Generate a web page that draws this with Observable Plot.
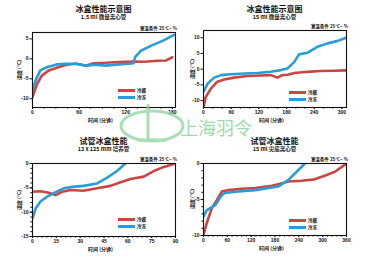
<!DOCTYPE html>
<html><head><meta charset="utf-8">
<script src="https://cdn.jsdelivr.net/npm/d3@7"></script>
<script src="https://cdn.jsdelivr.net/npm/@observablehq/plot@0.6"></script>
<style>
body{margin:0;background:#fff;}
#wrap{position:relative;width:376px;height:257px;overflow:hidden;font-family:"Noto Sans CJK SC","Noto Sans",sans-serif;background:#fff;}
.abs{position:absolute;white-space:nowrap;color:#111;font-weight:bold;}
.t1{font-size:8px;transform:translateX(-50%);line-height:1;}
.t2{font-size:5.5px;transform:translateX(-50%);line-height:1;}
.xl{font-size:5px;transform:translateX(-50%);line-height:1;}
.yl{font-size:5px;transform:translate(-50%,-50%) rotate(-90deg);line-height:1;}
.note{font-size:4.5px;transform:translateX(-100%);line-height:1;}
.leg{font-size:4.5px;line-height:1;}
.sw{position:absolute;height:3px;width:17px;}
</style></head>
<body><div id="wrap"></div>
<script>
// ---------- data ----------
const titles = ["冰盒性能示意图", "冰盒性能示意图", "试管冰盒性能", "试管冰盒性能"];
const subtitles = ["1.5 ml 微量离心管", "15 ml 微量离心管", "13 x 125 mm 培养管", "15 ml 尖底离心管"];
const seriesNames = ["冷藏", "冷冻"];
const xTitle = "时间 (分钟)";
const yTitle = "温度 (°C)";
const noteText = "室温条件 25°C~ %";

// top-left
const tlRedT  = [0, 6, 12, 21, 33, 44, 56, 69, 79, 94, 111, 128, 144, 161, 172, 180];
const tlRedV  = [-9.6, -6.25, -4.2, -2.9, -2.1, -1.5, -1.25, -1.7, -1.1, -1.0, -0.8, -0.7, -0.75, -0.5, -0.4, 0.4];
const tlBlueT = [0, 4, 10, 18.5, 31, 44, 56, 69, 81, 94, 111, 123, 130, 132, 140, 153, 170, 182];
const tlBlueV = [-7.9, -5.4, -2.9, -2.1, -1.4, -1.25, -1.25, -1.75, -1.5, -1.7, -1.4, -1.25, -1.1, 0.4, 2.1, 3.3, 4.75, 6];
// top-right
const trRedT  = [0, 5, 16, 30, 45, 66, 95, 124, 146, 160, 171, 182, 197, 225, 254, 283, 309];
const trRedV  = [-12, -8.8, -6.2, -4, -3.3, -2.7, -2.2, -2, -1.9, -2.7, -1.9, -1.8, -1.2, -0.85, -0.6, -0.5, -0.4];
const trBlueT = [0, 9, 23, 38, 59, 88, 117, 146, 168, 182, 197, 207, 225, 247, 269, 291, 309];
const trBlueV = [-7.2, -4.6, -2.7, -1.9, -1.6, -1.4, -1.2, -0.85, -0.3, 0.2, 2.3, 4.7, 5.2, 7.1, 8.2, 9, 10];
// bottom-left
const blRedT  = [0, 5, 10.3, 14.5, 18.7, 24, 32, 40.7, 49, 55, 61.7, 70, 76, 82.7, 90];
const blRedV  = [-5.8, -5.7, -6, -6.5, -5.8, -5.45, -5.6, -5.1, -4.6, -3.9, -3.2, -2.7, -1.6, -0.7, 0];
const blBlueT = [0, 2, 5, 9.2, 14.5, 19.7, 25, 32, 40.7, 47, 53, 58.5];
const blBlueV = [-11.25, -9.2, -7.8, -6.8, -5.9, -5.1, -4.8, -4.6, -4.1, -2.9, -1.6, 0];
// bottom-right
const brRedT  = [0, 8, 21, 33.5, 46, 63, 96, 130, 172, 193, 213, 247, 280, 305, 331, 356];
const brRedV  = [-9.9, -8.3, -6.2, -5.1, -3.9, -3.7, -3.5, -3.4, -3.1, -2.8, -2.5, -2.4, -2.2, -1.7, -1.15, -0.15];
const brBlueT = [0, 8, 17, 29, 46, 54, 88, 130, 188, 213, 239, 255];
const brBlueV = [-7.4, -6.5, -6.2, -5.8, -4.4, -4.1, -3.9, -3.7, -3.2, -2.3, -0.9, 0];

// tick labels
const tlXTicks = [0, 60, 120, 180], tlYTicks = [5, 0, -5, -10];
const trXTicks = [0, 60, 120, 180, 240, 300], trYTicks = [10, 5, 0, -5, -10];
const blXTicks = [0, 15, 30, 45, 60, 75, 90], blYTicks = [0, -5, -10, -15];
const brXTicks = [0, 60, 120, 180, 240, 300, 360], brYTicks = [0, -5, -10];

// ---------- layout ----------
const RED = "#cc4542", BLUE = "#2a9dd6";
const panels = [
  {L:32, R:175, T:32, B:107, xd:[0,184], yd:[-12.2,6.6], xt:tlXTicks, yt:tlYTicks, xm:15, ym:null,
   red:[tlRedT,tlRedV], blue:[tlBlueT,tlBlueV], tY:5, sY:15, legX:118, legY:89, ylX:18},
  {L:203, R:346, T:30, B:107, xd:[0,310], yd:[-12.2,12.3], xt:trXTicks, yt:trYTicks, xm:20, ym:null,
   red:[trRedT,trRedV], blue:[trBlueT,trBlueV], tY:5, sY:15, legX:289, legY:91, ylX:191},
  {L:32, R:175, T:163, B:236, xd:[0,90], yd:[-15,0], xt:blXTicks, yt:blYTicks, xm:3, ym:1,
   red:[blRedT,blRedV], blue:[blBlueT,blBlueV], tY:137, sY:147, legX:118, legY:218, ylX:18},
  {L:203, R:346, T:163, B:235, xd:[0,360], yd:[-10,0], xt:brXTicks, yt:brYTicks, xm:12, ym:1,
   red:[brRedT,brRedV], blue:[brBlueT,brBlueV], tY:137, sY:147, legX:289, legY:219, ylX:191}
];

const wrap = document.getElementById("wrap");
function div(cls, text, x, y) {
  const d = document.createElement("div");
  d.className = "abs " + cls; d.textContent = text;
  d.style.left = x + "px"; d.style.top = y + "px";
  wrap.appendChild(d); return d;
}
function range(a, b, s) { const r = []; for (let v = a; v <= b + 1e-9; v += s) r.push(+v.toFixed(4)); return r; }

panels.forEach((p, i) => {
  const svgLeft = p.L - 30, svgTop = p.T - 8;
  const width = (p.R - svgLeft) + 8, height = (p.B - svgTop) + 12;
  const redData = p.red[0].map((t, k) => ({t, v: p.red[1][k]}));
  const blueData = p.blue[0].map((t, k) => ({t, v: p.blue[1][k]}));
  const marks = [
    Plot.line(redData, {x:"t", y:"v", stroke:RED, strokeWidth:2.6, clip:true, strokeLinejoin:"round"}),
    Plot.line(blueData, {x:"t", y:"v", stroke:BLUE, strokeWidth:2.6, clip:true, strokeLinejoin:"round"}),
    Plot.frame({stroke:"#111", strokeWidth:1.1}),
    Plot.axisX({ticks:p.xt, tickSize:2, tickPadding:1, label:null, tickFormat:d=>String(d), stroke:"#111"}),
    Plot.axisX({ticks:range(p.xd[0], p.xd[1], p.xm), tickSize:1.6, text:null, label:null, stroke:"#111"}),
    Plot.axisY({ticks:p.yt, tickSize:2.5, tickPadding:1.5, label:null, tickFormat:d=>String(d), stroke:"#111"})
  ];
  if (p.ym) marks.push(Plot.axisY({ticks:range(p.yd[0], p.yd[1], p.ym), tickSize:1.6, text:null, label:null, stroke:"#111"}));
  const chart = Plot.plot({
    width, height,
    marginLeft: p.L - svgLeft, marginRight: width - (p.R - svgLeft),
    marginTop: p.T - svgTop, marginBottom: height - (p.B - svgTop),
    x:{domain:p.xd}, y:{domain:p.yd},
    style:{fontSize:"5px", fontWeight:"bold", fontFamily:"'Liberation Sans',sans-serif", color:"#111", background:"transparent", overflow:"visible"},
    marks
  });
  chart.style.position = "absolute";
  chart.style.left = svgLeft + "px"; chart.style.top = svgTop + "px";
  wrap.appendChild(chart);

  const cx = (p.L + p.R) / 2;
  div("t1", titles[i], cx, p.tY);
  div("t2", subtitles[i], cx, p.sY);
  div("xl", xTitle, cx - 3, Math.min(p.B + 10, 250));
  div("yl", yTitle, p.ylX, (p.T + p.B) / 2);
  div("note", noteText, p.R + 2, p.T - 6);
  // legend
  [RED, BLUE].forEach((c, k) => {
    const s = document.createElement("div");
    s.className = "sw"; s.style.background = c;
    s.style.left = p.legX + "px"; s.style.top = (p.legY + k * 7) + "px";
    wrap.appendChild(s);
    div("leg", seriesNames[k], p.legX + 19, p.legY + k * 7 - 1);
  });
});

// watermark
const wm = document.createElementNS("http://www.w3.org/2000/svg", "svg");
wm.setAttribute("width", 376); wm.setAttribute("height", 257);
wm.style.position = "absolute"; wm.style.left = "0"; wm.style.top = "0"; wm.style.pointerEvents = "none";
wm.innerHTML = `<g fill="none" stroke="#8fd3a0" stroke-width="3" opacity="0.75">
  <ellipse cx="152" cy="126" rx="31" ry="15"/>
  <path d="M148 104 V140 M138 140 H166"/></g>
  <text x="180" y="135" font-size="18" fill="#8fd3a0" opacity="0.85" font-family="'Noto Sans CJK SC'">上海羽令</text>`;
wrap.appendChild(wm);
</script></body></html>
